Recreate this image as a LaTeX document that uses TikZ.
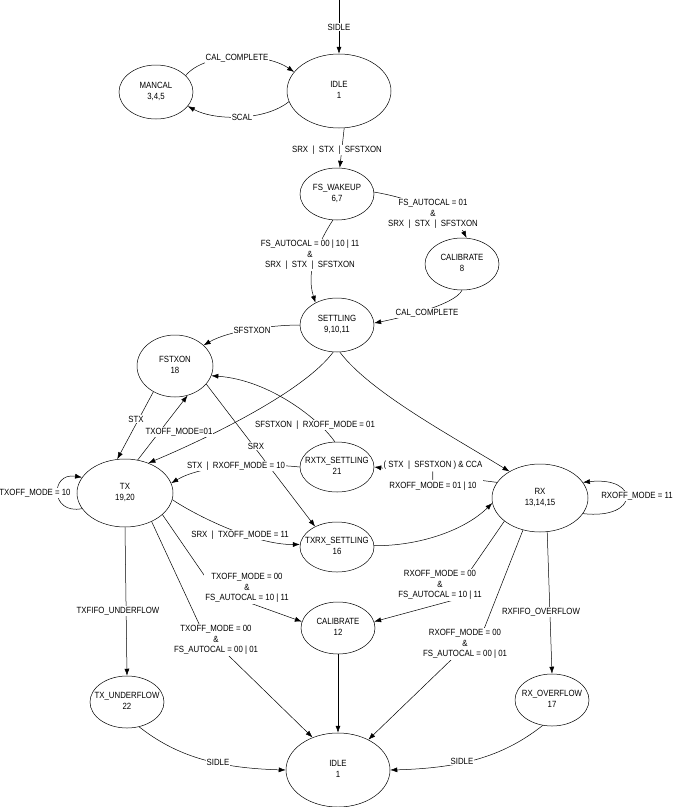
\documentclass[tikz,border=0pt]{standalone}
\usepackage{fontspec}
\setmainfont{Liberation Sans}[FakeStretch=0.87]
\usetikzlibrary{shapes.geometric,arrows.meta}
\newcommand\stl[2]{\makebox[0pt]{\begin{tabular}{@{}c@{}}#1\\#2\end{tabular}}}
\begin{document}
\begin{tikzpicture}[x=1pt,y=-1pt,
  state/.style={draw, ellipse, inner sep=0pt, line width=0.5pt, font=\fontsize{9}{10.5}\selectfont},
  edge/.style={draw, line width=0.5pt, -{Latex[length=7pt,width=5pt]}},
  lbl/.style={fill=white, inner sep=1pt, align=center, font=\fontsize{9}{10.5}\selectfont}]
\useasboundingbox (0,0) rectangle (673,807);

% states
\node[state, minimum width=104pt, minimum height=74pt] (idle1) at (339,91) {\stl{IDLE}{1}};
\node[state, minimum width=74pt, minimum height=54pt] (mancal) at (156,92) {\stl{MANCAL}{3,4,5}};
\node[state, minimum width=74pt, minimum height=52pt] (fswake) at (337,194) {\stl{FS\_WAKEUP}{6,7}};
\node[state, minimum width=74pt, minimum height=52pt] (cal8) at (462,264) {\stl{CALIBRATE}{8}};
\node[state, minimum width=74pt, minimum height=54pt] (settling) at (337,325) {\stl{SETTLING}{9,10,11}};
\node[state, minimum width=76pt, minimum height=62pt] (fstxon) at (175,366) {\stl{FSTXON}{18}};
\node[state, minimum width=96pt, minimum height=68pt] (tx) at (125,493) {\stl{TX}{19,20}};
\node[state, minimum width=74pt, minimum height=50pt] (rxtx) at (337,467) {\stl{RXTX\_SETTLING}{21}};
\node[state, minimum width=74pt, minimum height=50pt] (txrx) at (337,547) {\stl{TXRX\_SETTLING}{16}};
\node[state, minimum width=96pt, minimum height=68pt] (rx) at (540,498) {\stl{RX}{13,14,15}};
\node[state, minimum width=74pt, minimum height=52pt] (cal12) at (338,628) {\stl{CALIBRATE}{12}};
\node[state, minimum width=74pt, minimum height=52pt] (txunder) at (127,702) {\stl{TX\_UNDERFLOW}{22}};
\node[state, minimum width=74pt, minimum height=52pt] (rxover) at (552,700) {\stl{RX\_OVERFLOW}{17}};
\node[state, minimum width=104pt, minimum height=74pt] (idle2) at (338,770) {\stl{IDLE}{1}};
\coordinate (top) at (339,0);

% connectors
\draw[edge] (top) -- (idle1.north);
\draw[edge] (mancal.29) .. controls (205,52) and (265,52) .. (idle1.157);
\draw[edge] (idle1.192) .. controls (265,121) and (215,121) .. (mancal.336);
\draw[edge] (idle1.278) -- (fswake.84);
\draw[edge] (fswake.3) .. controls (410,198) and (455,215) .. (cal8.80);
\draw[edge] (fswake.261) .. controls (320,240) and (305,270) .. (settling.134);
\draw[edge] (cal8.270) .. controls (455,305) and (400,318) .. (settling.3);
\draw[edge] (settling.180) .. controls (275,325) and (230,330) .. (fstxon.36);
\draw[edge] (settling.276) .. controls (370,392) and (450,435) .. (rx.139);
\draw[edge] (settling.262) .. controls (305,390) and (215,435) .. (tx.52);
\draw[edge] (fstxon.230) -- (tx.103);
\draw[edge] (tx.69) -- (fstxon.293);
\draw[edge] (rxtx.95) .. controls (320,420) and (270,380) .. (fstxon.345);
\draw[edge] (rxtx.180) .. controls (250,462) and (200,466) .. (tx.12);
\draw[edge] (rx.160) -- (rxtx.east);
\draw[edge] (tx.352) .. controls (195,515) and (255,545) .. (txrx.176);
\draw[edge] (txrx.2) .. controls (420,546) and (465,530) .. (rx.186);
\draw[edge] (fstxon.330) -- (txrx.137);
\draw[edge] (tx.200) .. controls (50,515) and (50,472) .. (tx.160);
\draw[edge] (rx.340) .. controls (640,520) and (640,476) .. (rx.20);
\draw[edge] (tx.south) -- (txunder.north);
\draw[edge] (tx.330) -- (204,575) -- (250,603) -- (cal12.170);
\draw[edge] (tx.313) -- (200,626) -- (228,655) -- (idle2.128);
\draw[edge] (rx.213) -- (470,571) -- (454,600) -- (cal12.10);
\draw[edge] (rx.242) -- (484,629) -- (452,659) -- (idle2.45);
\draw[edge] (rx.282) -- (rxover.north);
\draw[edge] (cal12.south) -- (idle2.north);
\draw[edge] (txunder.296) .. controls (175,755) and (215,768) .. (idle2.west);
\draw[edge] (rxover.250) .. controls (505,755) and (465,768) .. (idle2.east);

% labels
\node[lbl] (l1) at (339,27) {SIDLE};
\node[lbl] (l2) at (237,58) {CAL\_COMPLETE};
\node[lbl] (l3) at (242,117) {SCAL};
\node[lbl] (l4) at (337,150) {SRX\ \ |\ \ STX\ \ |\ \ SFSTXON};
\node[lbl] (l5) at (433,214) {FS\_AUTOCAL = 01\\\&\\SRX\ \ |\ \ STX\ \ |\ \ SFSTXON};
\node[lbl] (l6) at (310,255) {FS\_AUTOCAL = 00 | 10 | 11\\\&\\SRX\ \ |\ \ STX\ \ |\ \ SFSTXON};
\node[lbl] (l7) at (427,313) {CAL\_COMPLETE};
\node[lbl] (l8) at (252,330) {SFSTXON};
\node[lbl] (l9) at (136,419) {STX};
\node[lbl] (l10) at (179,432) {TXOFF\_MODE=01};
\node[lbl] (l11) at (315,425) {SFSTXON\ \ |\ \ RXOFF\_MODE = 01};
\node[lbl] (l12) at (256,446) {SRX};
\node[lbl] (l13) at (236,466) {STX\ \ |\ \ RXOFF\_MODE = 10};
\node[lbl] (l14) at (433,476) {( STX\ \ |\ \ SFSTXON ) \& CCA\\|\\RXOFF\_MODE = 01 | 10};
\node[lbl] (l15) at (35,493) {TXOFF\_MODE = 10};
\node[lbl] (l16) at (637,496) {RXOFF\_MODE = 11};
\node[lbl] (l17) at (240,535) {SRX\ \ |\ \ TXOFF\_MODE = 11};
\node[lbl] (l18) at (247,588) {TXOFF\_MODE = 00\\\&\\FS\_AUTOCAL = 10 | 11};
\node[lbl] (l19) at (440,585) {RXOFF\_MODE = 00\\\&\\FS\_AUTOCAL = 10 | 11};
\node[lbl] (l20) at (118,611) {TXFIFO\_UNDERFLOW};
\node[lbl] (l21) at (541,612) {RXFIFO\_OVERFLOW};
\node[lbl] (l22) at (216,640) {TXOFF\_MODE = 00\\\&\\FS\_AUTOCAL = 00 | 01};
\node[lbl] (l23) at (465,644) {RXOFF\_MODE = 00\\\&\\FS\_AUTOCAL = 00 | 01};
\node[lbl] (l24) at (218,762) {SIDLE};
\node[lbl] (l25) at (462,761) {SIDLE};
\end{tikzpicture}
\end{document}
